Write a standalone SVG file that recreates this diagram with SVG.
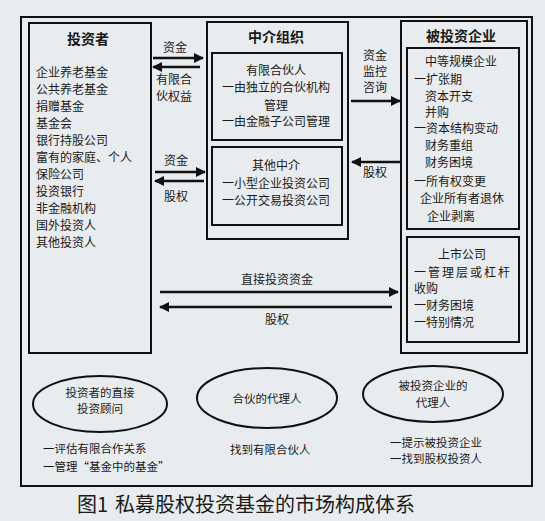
<svg xmlns="http://www.w3.org/2000/svg" width="545" height="521" viewBox="0 0 545 521">
<defs>
<style>
text{font-family:"Noto Sans CJK SC","Liberation Sans",sans-serif;fill:#1a1a1a;font-size:12px}
.b{font-weight:bold;font-size:14px}
.c{text-anchor:middle}
.s{font-size:11.5px}
.box{fill:none;stroke:#111;stroke-width:2}
.ar{stroke:#111;stroke-width:2.5;fill:none}
.cap{font-size:20px}
</style>
<marker id="ah" viewBox="0 0 10 10" refX="9" refY="5" markerWidth="4" markerHeight="4" orient="auto-start-reverse" markerUnits="strokeWidth">
<path d="M0,0 L10,5 L0,10 z" fill="#111"/>
</marker>
</defs>
<rect width="545" height="521" fill="#e9ecee"/>
<rect class="box" x="21" y="17" width="511" height="469"/>

<g id="investors">
<rect class="box" x="29" y="23" width="122" height="330"/>
<text class="b c" x="88" y="44">投资者</text>
<text x="36" y="77">企业养老基金</text>
<text x="36" y="94">公共养老基金</text>
<text x="36" y="111">捐赠基金</text>
<text x="36" y="128">基金会</text>
<text x="36" y="145">银行持股公司</text>
<text x="36" y="162">富有的家庭、个人</text>
<text x="36" y="179">保险公司</text>
<text x="36" y="196">投资银行</text>
<text x="36" y="213">非金融机构</text>
<text x="36" y="230">国外投资人</text>
<text x="36" y="247">其他投资人</text>
</g>

<g id="intermediary">
<rect class="box" x="207" y="22" width="141" height="217"/>
<text class="b c" x="276" y="42">中介组织</text>
<rect class="box" x="212" y="53" width="130" height="87"/>
<text class="c" x="276" y="75">有限合伙人</text>
<text class="c" x="276" y="92">一由独立的合伙机构</text>
<text class="c" x="276" y="110">管理</text>
<text class="c" x="276" y="126">一由金融子公司管理</text>
<rect class="box" x="212" y="147" width="130" height="78"/>
<text class="c" x="276" y="170">其他中介</text>
<text class="c" x="276" y="188">一小型企业投资公司</text>
<text class="c" x="276" y="205">一公开交易投资公司</text>
</g>

<g id="investees">
<rect class="box" x="401" y="21" width="126" height="332"/>
<text class="b c" x="461" y="41">被投资企业</text>
<rect class="box" x="407" y="48" width="112" height="181"/>
<text x="425" y="66">中等规模企业</text>
<text x="414" y="84">一扩张期</text>
<text x="425" y="101">资本开支</text>
<text x="425" y="117">并购</text>
<text x="414" y="133">一资本结构变动</text>
<text x="425" y="150">财务重组</text>
<text x="425" y="167">财务困境</text>
<text x="414" y="186">一所有权变更</text>
<text x="420" y="203">企业所有者退休</text>
<text x="427" y="221">企业剥离</text>
<rect class="box" x="407" y="237" width="112" height="105"/>
<text class="c" x="462" y="259">上市公司</text>
<text x="414" y="277" letter-spacing="2">一管理层或杠杆</text>
<text x="414" y="293">收购</text>
<text x="414" y="310">一财务困境</text>
<text x="414" y="327">一特别情况</text>
</g>

<g id="connectors">
<line class="ar" x1="153" y1="58" x2="203" y2="58" marker-end="url(#ah)"/>
<line class="ar" x1="200" y1="67" x2="153" y2="67" marker-end="url(#ah)"/>
<line class="ar" x1="155" y1="172" x2="205" y2="172" marker-end="url(#ah)"/>
<line class="ar" x1="204" y1="181" x2="155" y2="181" marker-end="url(#ah)"/>
<line class="ar" x1="351" y1="101" x2="400" y2="101" marker-end="url(#ah)"/>
<line class="ar" x1="400" y1="162" x2="352" y2="162" marker-end="url(#ah)"/>
<line class="ar" x1="160" y1="292" x2="398" y2="292" marker-end="url(#ah)"/>
<line class="ar" x1="392" y1="307" x2="160" y2="307" marker-end="url(#ah)"/>
<text class="c" x="175" y="52">资金</text>
<text class="c" x="174" y="84">有限合</text>
<text class="c" x="174" y="101">伙权益</text>
<text class="c" x="176" y="165">资金</text>
<text class="c" x="176" y="201">股权</text>
<text class="c" x="375" y="60">资金</text>
<text class="c" x="375" y="76">监控</text>
<text class="c" x="375" y="92">咨询</text>
<text class="c" x="375" y="177">股权</text>
<text class="c" x="277" y="284">直接投资资金</text>
<text class="c" x="277" y="324">股权</text>
</g>

<g id="advisor">
<ellipse class="box" cx="100" cy="404" rx="67" ry="28"/>
<text class="c s" x="100" y="397">投资者的直接</text>
<text class="c s" x="100" y="413">投资顾问</text>
<text class="s" x="43" y="453">一评估有限合作关系</text>
<text class="s" x="43" y="471">一管理“基金中的基金”</text>
</g>

<g id="partner-agent">
<ellipse class="box" cx="267" cy="398" rx="70" ry="30"/>
<text class="c s" x="267" y="403">合伙的代理人</text>
<text class="s" x="230" y="454">找到有限合伙人</text>
</g>

<g id="investee-agent">
<ellipse class="box" cx="433" cy="394" rx="70" ry="28"/>
<text class="c s" x="433" y="390">被投资企业的</text>
<text class="c s" x="433" y="407">代理人</text>
<text class="s" x="390" y="447">一提示被投资企业</text>
<text class="s" x="390" y="463">一找到股权投资人</text>
</g>

<text class="cap" x="77" y="512">图1<tspan x="115">私募股权投资基金的市场构成体系</tspan></text>
</svg>
